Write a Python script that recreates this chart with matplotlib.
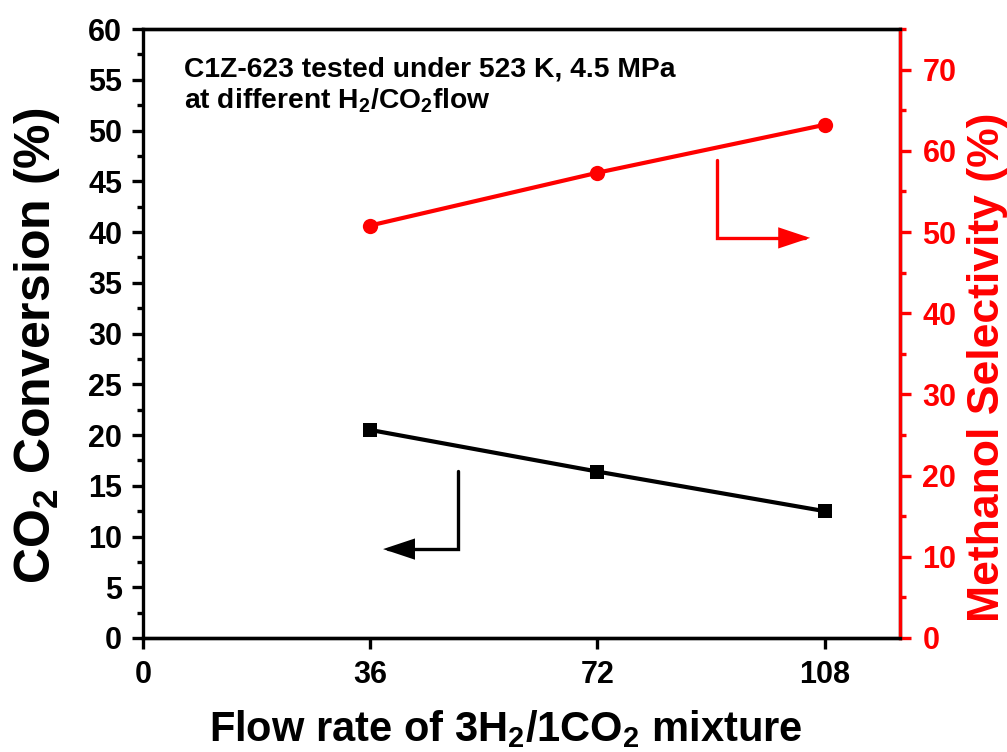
import matplotlib
matplotlib.use('Agg')
import matplotlib.pyplot as plt
from matplotlib.ticker import MultipleLocator

plt.rcParams['font.family'] = ['Liberation Sans', 'DejaVu Sans']
plt.rcParams['font.weight'] = 'bold'
plt.rcParams['mathtext.fontset'] = 'custom'
plt.rcParams['mathtext.rm'] = 'Liberation Sans:bold'
plt.rcParams['mathtext.it'] = 'Liberation Sans:bold'
plt.rcParams['mathtext.bf'] = 'Liberation Sans:bold'
plt.rcParams['mathtext.default'] = 'rm'

# data
flow = [36, 72, 108]
conversion = [20.5, 16.4, 12.5]
selectivity = [50.8, 57.3, 63.2]
xticks = [0, 36, 72, 108]

red = '#ff0000'

fig = plt.figure(figsize=(10.07, 7.52), dpi=100)
ax = fig.add_axes([0.142, 0.1516, 0.752, 0.8098])
ax2 = ax.twinx()

ax.plot(flow, conversion, color='black', lw=3, marker='s', ms=9.5, mew=0)
ax2.plot(flow, selectivity, color=red, lw=3, marker='o', ms=11, mew=0)

ax.set_xlim(0, 120)
ax.set_ylim(0, 60)
ax2.set_ylim(0, 75)
ax.set_xticks(xticks)
ax.yaxis.set_major_locator(MultipleLocator(5))
ax.yaxis.set_minor_locator(MultipleLocator(2.5))
ax2.yaxis.set_major_locator(MultipleLocator(10))
ax2.yaxis.set_minor_locator(MultipleLocator(5))

for a in (ax, ax2):
    for s in a.spines.values():
        s.set_linewidth(2.4)
ax2.spines['right'].set_color(red)
ax2.spines['left'].set_visible(False)

ax.tick_params(axis='both', which='major', direction='out', length=8, width=2.4,
               labelsize=22, pad=7)
ax.tick_params(axis='x', which='major', pad=8)
ax.tick_params(axis='y', which='minor', direction='out', length=4, width=2.4)
ax2.tick_params(axis='y', which='major', direction='out', length=8, width=2.4,
                labelsize=22, colors=red, pad=8)
ax2.tick_params(axis='y', which='minor', direction='out', length=4, width=2.4, colors=red)

ax.set_xlabel('Flow rate of 3H$_2$/1CO$_2$ mixture', fontsize=30, fontweight='bold')
ax.xaxis.set_label_coords(0.479, -0.116)
ax.set_ylabel('CO$_2$ Conversion (%)', fontsize=36, fontweight='bold')
ax.yaxis.set_label_coords(-0.107, 0.48)
ax2.set_ylabel('Methanol Selectivity (%)', fontsize=32, fontweight='bold', color=red)
ax2.yaxis.set_label_coords(1.088, 0.445)

ax.text(0.054, 0.955, 'C1Z-623 tested under 523 K, 4.5 MPa\nat different H$_2$/CO$_2$flow',
        transform=ax.transAxes, fontsize=20.3, fontweight='bold', va='top', ha='left',
        linespacing=1.2)

# direction arrows
head = '-|>,head_length=1.2,head_width=0.4'
ax.annotate('', xy=(0.317, 0.146), xytext=(0.416, 0.274), xycoords='axes fraction',
            arrowprops=dict(arrowstyle=head, mutation_scale=15, color='black', lw=2.4,
                            shrinkA=0, shrinkB=0, joinstyle='miter',
                            connectionstyle='angle,angleA=-90,angleB=0,rad=0'))
ax.annotate('', xy=(0.881, 0.657), xytext=(0.758, 0.785), xycoords='axes fraction',
            arrowprops=dict(arrowstyle=head, mutation_scale=15, color=red, lw=2.4,
                            shrinkA=0, shrinkB=0, joinstyle='miter',
                            connectionstyle='angle,angleA=90,angleB=0,rad=0'))

fig.savefig('out.png', dpi=100)
